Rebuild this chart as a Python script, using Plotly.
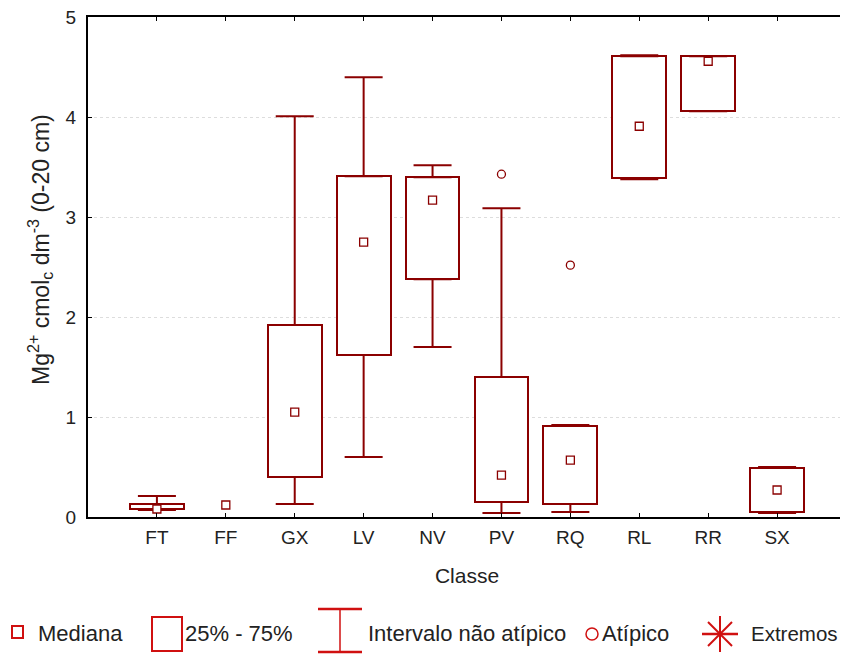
import plotly.graph_objects as go

categories = ["FT", "FF", "GX", "LV", "NV", "PV", "RQ", "RL", "RR", "SX"]
median = [0.08, 0.12, 1.05, 2.75, 3.17, 0.42, 0.57, 3.91, 4.56, 0.27]
q1 = [0.08, None, 0.40, 1.62, 2.38, 0.15, 0.13, 3.39, 4.06, 0.05]
q3 = [0.13, None, 1.92, 3.41, 3.40, 1.40, 0.91, 4.61, 4.61, 0.49]
lower = [0.07, None, 0.13, 0.60, 1.70, 0.04, 0.05, 3.38, 4.06, 0.04]
upper = [0.21, None, 4.01, 4.40, 3.52, 3.09, 0.92, 4.62, 4.61, 0.50]
outlier_cat = ["PV", "RQ"]
outlier_val = [3.43, 2.52]
y_ticks = [0, 1, 2, 3, 4, 5]

DARK = "#8b0000"
LEG = "#d01010"
TXT = "#222222"
FONT = "Liberation Sans, Arial, sans-serif"

# page has an 8px body margin; lay out in page pixels and shift by OFF
OFF = 8
W, H = 848 - OFF, 654 - OFF
L, R, T, B = 88 - OFF, 846 - OFF, 17 - OFF, 517 - OFF

fig = go.Figure()

# boxes (25%-75%)
fig.add_trace(go.Bar(
    x=categories,
    y=[(b - a) if a is not None else None for a, b in zip(q1, q3)],
    base=q1,
    width=0.78,
    marker=dict(color="white", line=dict(color=DARK, width=2)),
    showlegend=False, hoverinfo="skip",
))

# upper whiskers
fig.add_trace(go.Scatter(
    x=categories, y=q3, mode="markers",
    marker=dict(size=1, color="rgba(0,0,0,0)"),
    error_y=dict(type="data", symmetric=False,
                 array=[(u - b) if b is not None else None for u, b in zip(upper, q3)],
                 arrayminus=[0 if b is not None else None for b in q3],
                 color=DARK, thickness=2, width=19),
    showlegend=False, hoverinfo="skip",
))
# lower whiskers
fig.add_trace(go.Scatter(
    x=categories, y=q1, mode="markers",
    marker=dict(size=1, color="rgba(0,0,0,0)"),
    error_y=dict(type="data", symmetric=False,
                 array=[0 if a is not None else None for a in q1],
                 arrayminus=[(a - lo) if a is not None else None for a, lo in zip(q1, lower)],
                 color=DARK, thickness=2, width=19),
    showlegend=False, hoverinfo="skip",
))

# medians
fig.add_trace(go.Scatter(
    x=categories, y=median, mode="markers",
    marker=dict(symbol="square", size=8, color="white", line=dict(color=DARK, width=1.3)),
    showlegend=False,
))

# outliers
fig.add_trace(go.Scatter(
    x=outlier_cat, y=outlier_val, mode="markers",
    marker=dict(symbol="circle-open", size=8, color=DARK, line=dict(width=1.3)),
    showlegend=False,
))

fig.update_layout(
    width=W, height=H,
    margin=dict(l=L, r=W - R, t=T, b=H - B, pad=0, autoexpand=False),
    paper_bgcolor="white", plot_bgcolor="white",
    font=dict(family=FONT, size=19, color=TXT),
    showlegend=False,
    bargap=0,
)
fig.update_xaxes(
    type="category", range=[-1, 10], automargin=False,
    showline=True, linecolor="black", linewidth=2, mirror="ticks",
    ticks="inside", ticklen=4, tickcolor="black", tickwidth=1,
    showgrid=False, zeroline=False,
    tickfont=dict(size=19, color=TXT), ticklabelstandoff=2,
    title=dict(text="Classe", font=dict(size=21, color=TXT), standoff=22),
)
fig.update_yaxes(
    range=[0, 5.003], tickvals=y_ticks, ticktext=[str(v) for v in y_ticks],
    automargin=False, ticklabeloverflow="allow",
    showline=True, linecolor="black", linewidth=2, mirror=True,
    ticks="inside", ticklen=4, tickcolor="black", tickwidth=1,
    showgrid=True, gridcolor="#dddddd", griddash="dot", gridwidth=1,
    zeroline=False,
    tickfont=dict(size=19, color=TXT), ticklabelstandoff=6,
)

# ---- helpers for page-pixel placement ----
def px(x):
    return (x - OFF - L) / (R - L)

def py(y):
    return (B - (y - OFF)) / (B - T)

# y-axis title as rotated annotation
fig.add_annotation(text="Mg<sup>2+</sup> cmol<sub>c</sub> dm<sup>-3</sup> (0-20 cm)",
                   xref="paper", yref="paper", x=px(40), y=py(250),
                   xanchor="center", yanchor="middle", textangle=-90, showarrow=False,
                   font=dict(size=23, color=TXT, family=FONT))

# ---- custom legend at bottom ----
shapes = []
def line(x0, y0, x1, y1, w=2):
    shapes.append(dict(type="line", xref="paper", yref="paper",
                       x0=px(x0), y0=py(y0), x1=px(x1), y1=py(y1),
                       line=dict(color=LEG, width=w)))

# Mediana square
shapes.append(dict(type="rect", xref="paper", yref="paper",
                   x0=px(12), y0=py(638), x1=px(23), y1=py(626),
                   line=dict(color=LEG, width=2)))
# box
shapes.append(dict(type="rect", xref="paper", yref="paper",
                   x0=px(152), y0=py(651), x1=px(182), y1=py(617),
                   line=dict(color=LEG, width=2)))
# whisker
line(340, 608, 340, 652, 1.5)
line(318, 609, 362, 609, 2.5)
line(318, 652, 362, 652, 2.5)
# atípico circle
shapes.append(dict(type="circle", xref="paper", yref="paper",
                   x0=px(586), y0=py(640), x1=px(598), y1=py(628),
                   line=dict(color=LEG, width=1.5)))
# extremos asterisk
cx, cy = 720, 634
line(cx - 18, cy, cx + 18, cy, 2.5)
line(cx, cy - 18, cx, cy + 18, 2)
line(cx - 12, cy - 12, cx + 12, cy + 12, 2)
line(cx - 12, cy + 12, cx + 12, cy - 12, 2)

fig.update_layout(shapes=shapes)

legend_texts = [("Mediana", 36, 22), ("25% - 75%", 183, 22), ("Intervalo não atípico", 366, 22),
                ("Atípico", 600, 22), ("Extremos", 749, 20.5)]
for t, x, fs in legend_texts:
    fig.add_annotation(text=t, xref="paper", yref="paper", x=px(x), y=py(633),
                       xanchor="left", yanchor="middle", showarrow=False,
                       font=dict(size=fs, color=TXT, family=FONT))

fig.write_html("out.html")
